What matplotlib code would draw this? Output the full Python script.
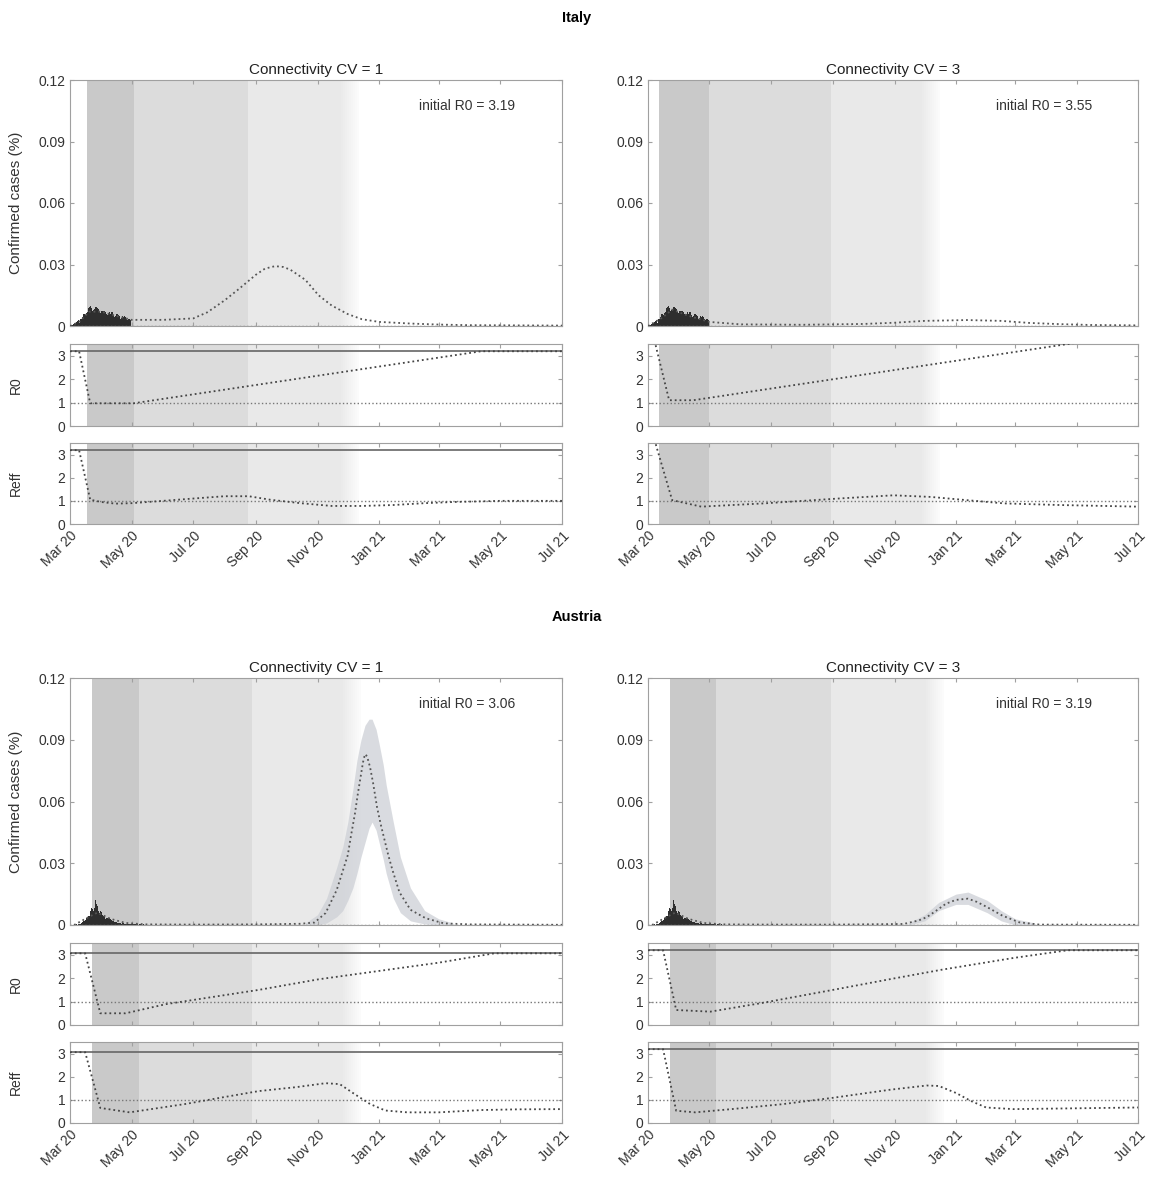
import numpy as np
import matplotlib
matplotlib.use("Agg")
import matplotlib.pyplot as plt
import matplotlib.dates as mdates

plt.rcParams["font.family"] = ["Liberation Sans", "DejaVu Sans"]

# --- 数据 ---
# 每日确诊（占人口 %），意大利 3/1 - 4/30
italy_obs_start = "2020-03-01"
italy_obs = [0.0004, 0.0005, 0.0006, 0.0009, 0.0013, 0.0013, 0.0021, 0.0025, 0.0027, 0.0016,
             0.0035, 0.0036, 0.0042, 0.0058, 0.0060, 0.0053, 0.0065, 0.0070, 0.0090, 0.0095,
             0.0100, 0.0088, 0.0072, 0.0078, 0.0085, 0.0094, 0.0092, 0.0090, 0.0082, 0.0068, 0.0065,
             0.0072, 0.0074, 0.0075, 0.0073, 0.0068, 0.0058, 0.0052, 0.0060, 0.0066, 0.0060,
             0.0070, 0.0068, 0.0052, 0.0042, 0.0050, 0.0060, 0.0058, 0.0054, 0.0050, 0.0036,
             0.0040, 0.0048, 0.0042, 0.0049, 0.0042, 0.0035, 0.0029, 0.0035, 0.0034, 0.0031]
# 奥地利 3/5 - 5/15
austria_obs_start = "2020-03-05"
austria_obs = [0.0002, 0.0002, 0.0003, 0.0002, 0.0004, 0.0006, 0.0007, 0.0010, 0.0014, 0.0018,
               0.0019, 0.0026, 0.0035, 0.0040, 0.0046, 0.0043, 0.0068, 0.0085, 0.0076, 0.0068,
               0.0082, 0.0120, 0.0100, 0.0090, 0.0066, 0.0060, 0.0068, 0.0062, 0.0048, 0.0046,
               0.0042, 0.0030, 0.0035, 0.0034, 0.0033, 0.0035, 0.0028, 0.0024, 0.0019, 0.0018,
               0.0016, 0.0014, 0.0013, 0.0011, 0.0010, 0.0009, 0.0008, 0.0007, 0.0009, 0.0008,
               0.0007, 0.0006, 0.0005, 0.0004, 0.0005, 0.0006, 0.0005, 0.0004, 0.0003, 0.0004,
               0.0003, 0.0004, 0.0003, 0.0003, 0.0002, 0.0003, 0.0003, 0.0002, 0.0002, 0.0003,
               0.0002, 0.0002]

# 模型曲线（日期, 值）
it1_model_dates = ["2020-03-01", "2020-03-10", "2020-03-20", "2020-04-01", "2020-04-15", "2020-05-01",
                   "2020-06-01", "2020-07-01", "2020-07-15", "2020-08-01", "2020-08-15", "2020-09-01",
                   "2020-09-10", "2020-09-20", "2020-09-28", "2020-10-05", "2020-10-20", "2020-11-02",
                   "2020-11-15", "2020-12-01", "2020-12-15", "2021-01-01", "2021-02-01", "2021-03-01",
                   "2021-04-01", "2021-07-01"]
it1_model = [0.0, 0.002, 0.007, 0.007, 0.005, 0.003, 0.003, 0.0037, 0.0067, 0.0125, 0.018, 0.025,
             0.0280, 0.0292, 0.0288, 0.0275, 0.0225, 0.015, 0.010, 0.0058, 0.0033, 0.002, 0.0012,
             0.0007, 0.0004, 0.0002]

it3_model_dates = ["2020-03-01", "2020-03-15", "2020-03-25", "2020-04-10", "2020-05-01", "2020-06-01",
                   "2020-08-01", "2020-10-01", "2020-11-01", "2020-12-01", "2021-01-12", "2021-02-15",
                   "2021-03-15", "2021-04-15", "2021-05-15", "2021-07-01"]
it3_model = [0.0, 0.004, 0.008, 0.005, 0.002, 0.0008, 0.0006, 0.0010, 0.0016, 0.0025, 0.0029, 0.0025,
             0.0015, 0.0009, 0.0005, 0.0003]

at1_model_dates = ["2020-03-05", "2020-03-20", "2020-03-28", "2020-04-10", "2020-04-25", "2020-05-15",
                   "2020-07-01", "2020-09-01", "2020-10-15", "2020-10-29", "2020-11-09", "2020-11-20",
                   "2020-12-01", "2020-12-04", "2020-12-08", "2020-12-11", "2020-12-14", "2020-12-16",
                   "2020-12-18", "2020-12-20", "2020-12-23", "2020-12-26", "2020-12-30", "2021-01-03",
                   "2021-01-07", "2021-01-10", "2021-01-14", "2021-01-21", "2021-02-01", "2021-02-16",
                   "2021-03-06", "2021-04-01", "2021-07-01"]
at1_model = [0.0, 0.004, 0.006, 0.003, 0.001, 0.0003, 0.0002, 0.0003, 0.0006, 0.0012, 0.0058, 0.017,
             0.034, 0.043, 0.054, 0.064, 0.073, 0.079, 0.083, 0.082, 0.0767, 0.069, 0.057, 0.048,
             0.040, 0.034, 0.027, 0.016, 0.0074, 0.0033, 0.0008, 0.0003, 0.0001]
at1_band_dates = ["2020-10-20", "2020-11-01", "2020-11-10", "2020-11-20", "2020-11-26", "2020-12-01",
                  "2020-12-06", "2020-12-10", "2020-12-14", "2020-12-18", "2020-12-22", "2020-12-25",
                  "2020-12-29", "2021-01-01", "2021-01-05", "2021-01-08", "2021-01-15", "2021-01-22",
                  "2021-02-01", "2021-02-15", "2021-03-01", "2021-03-15"]
at1_band_hi = [0.001, 0.005, 0.013, 0.028, 0.038, 0.050, 0.066, 0.080, 0.090, 0.097, 0.100, 0.100,
               0.095, 0.088, 0.078, 0.068, 0.050, 0.033, 0.018, 0.007, 0.003, 0.001]
at1_band_lo = [0.0, 0.0, 0.001, 0.004, 0.007, 0.012, 0.018, 0.025, 0.033, 0.040, 0.047, 0.050,
               0.046, 0.040, 0.032, 0.025, 0.013, 0.006, 0.002, 0.0005, 0.0, 0.0]

at3_model_dates = ["2020-03-05", "2020-03-20", "2020-03-28", "2020-04-10", "2020-04-25", "2020-05-15",
                   "2020-07-01", "2020-09-01", "2020-11-10", "2020-11-25", "2020-12-03", "2020-12-12",
                   "2020-12-22", "2021-01-01", "2021-01-13", "2021-01-22", "2021-02-01", "2021-02-16",
                   "2021-03-05", "2021-03-25", "2021-07-01"]
at3_model = [0.0, 0.004, 0.006, 0.003, 0.001, 0.0003, 0.0002, 0.0002, 0.0005, 0.0022, 0.0038, 0.0068,
             0.0103, 0.0122, 0.0128, 0.0112, 0.0087, 0.0046, 0.0013, 0.0002, 0.0001]
at3_band_dates = ["2020-11-15", "2020-12-01", "2020-12-15", "2021-01-01", "2021-01-13", "2021-02-01",
                  "2021-02-15", "2021-03-01", "2021-03-20"]
at3_band_hi = [0.001, 0.005, 0.011, 0.015, 0.016, 0.012, 0.007, 0.003, 0.001]
at3_band_lo = [0.0, 0.002, 0.007, 0.010, 0.010, 0.006, 0.002, 0.0, 0.0]

# R0 / Reff
it1_r0_dates = ["2020-03-01", "2020-03-10", "2020-03-21", "2020-05-03", "2021-04-12", "2021-07-01"]
it1_r0 = [3.19, 3.19, 0.97, 0.97, 3.19, 3.19]
it1_reff_dates = ["2020-03-01", "2020-03-10", "2020-03-21", "2020-04-01", "2020-04-15", "2020-05-01",
                  "2020-06-01", "2020-07-01", "2020-08-01", "2020-08-25", "2020-09-15", "2020-10-15",
                  "2020-11-15", "2020-12-15", "2021-01-15", "2021-02-15", "2021-03-15", "2021-05-01",
                  "2021-07-01"]
it1_reff = [3.19, 3.19, 1.05, 0.95, 0.88, 0.9, 1.0, 1.1, 1.2, 1.2, 1.05, 0.9, 0.78, 0.78, 0.82, 0.9,
            0.95, 1.0, 1.0]

it3_r0_dates = ["2020-03-01", "2020-03-08", "2020-03-22", "2020-04-15", "2021-04-30", "2021-07-01"]
it3_r0 = [3.55, 3.55, 1.1, 1.1, 3.55, 3.55]
it3_reff_dates = ["2020-03-01", "2020-03-08", "2020-03-25", "2020-04-23", "2020-06-24", "2020-09-06",
                  "2020-10-31", "2020-12-07", "2021-01-12", "2021-02-18", "2021-04-14", "2021-07-01"]
it3_reff = [3.55, 3.55, 1.03, 0.75, 0.89, 1.1, 1.24, 1.17, 1.03, 0.89, 0.82, 0.75]

at1_r0_dates = ["2020-03-01", "2020-03-16", "2020-03-31", "2020-04-25", "2020-06-04", "2020-09-04",
                "2020-11-02", "2021-03-01", "2021-04-25", "2021-07-01"]
at1_r0 = [3.06, 3.06, 0.5, 0.5, 0.89, 1.5, 1.95, 2.66, 3.06, 3.06]
at1_reff_dates = ["2020-03-01", "2020-03-16", "2020-03-31", "2020-04-29", "2020-06-23", "2020-07-29",
                  "2020-09-04", "2020-10-11", "2020-11-09", "2020-11-23", "2020-12-08", "2020-12-23",
                  "2021-01-07", "2021-01-29", "2021-03-01", "2021-04-12", "2021-05-18", "2021-07-01"]
at1_reff = [3.06, 3.06, 0.65, 0.46, 0.82, 1.1, 1.38, 1.55, 1.72, 1.68, 1.24, 0.82, 0.54, 0.46, 0.46,
            0.56, 0.59, 0.6]

at3_r0_dates = ["2020-03-01", "2020-03-16", "2020-03-29", "2020-05-02", "2020-06-21", "2020-09-01",
                "2020-10-28", "2020-12-18", "2021-02-27", "2021-04-22", "2021-07-01"]
at3_r0 = [3.19, 3.19, 0.64, 0.57, 0.93, 1.5, 1.96, 2.36, 2.86, 3.19, 3.19]
at3_reff_dates = ["2020-03-01", "2020-03-16", "2020-03-29", "2020-04-17", "2020-05-23", "2020-07-12",
                  "2020-09-01", "2020-10-28", "2020-12-03", "2020-12-15", "2021-01-01", "2021-01-16",
                  "2021-01-31", "2021-02-27", "2021-07-01"]
at3_reff = [3.19, 3.19, 0.53, 0.46, 0.6, 0.81, 1.09, 1.44, 1.62, 1.6, 1.3, 0.95, 0.67, 0.6, 0.67]

# 限制措施阴影的分界日期：强 / 中 / 弱 / 结束
it1_spans = ["2020-03-18", "2020-05-03", "2020-08-24", "2020-12-12"]
it3_spans = ["2020-03-12", "2020-05-01", "2020-08-30", "2020-12-16"]
at1_spans = ["2020-03-23", "2020-05-08", "2020-08-28", "2020-12-14"]
at3_spans = ["2020-03-23", "2020-05-08", "2020-08-30", "2020-12-20"]

initial_r0 = {"it1": 3.19, "it3": 3.55, "at1": 3.06, "at3": 3.19}

W, H = 1149, 1178
fig = plt.figure(figsize=(W / 100, H / 100), dpi=100)

x_start, x_end = np.datetime64("2020-03-01"), np.datetime64("2021-07-01")
xticks = np.array(["2020-03-01", "2020-05-01", "2020-07-01", "2020-09-01", "2020-11-01",
                   "2021-01-01", "2021-03-01", "2021-05-01", "2021-07-01"], dtype="datetime64[D]")
span_cols = ["#c9c9c9", "#dcdcdc", "#e9e9e9"]
frame_col = "#a0a0a0"
text_col = "#333333"


def d(lst):
    return np.array(lst, dtype="datetime64[D]")


def px_rect(left, top, right, bottom):
    return [left / W, 1 - bottom / H, (right - left) / W, (bottom - top) / H]


def style(ax, ylim, yticks, yticklabels, show_x):
    ax.set_xlim(x_start, x_end)
    ax.set_ylim(*ylim)
    ax.set_yticks(yticks)
    ax.set_yticklabels(yticklabels)
    ax.set_xticks(xticks)
    if show_x:
        ax.xaxis.set_major_formatter(mdates.DateFormatter("%b %y"))
        for lab in ax.get_xticklabels():
            lab.set_rotation(45)
            lab.set_ha("right")
            lab.set_rotation_mode("anchor")
    else:
        ax.set_xticklabels([])
    ax.tick_params(direction="in", length=3, top=True, right=True, color=frame_col,
                   labelcolor=text_col, labelsize=10)
    for s in ax.spines.values():
        s.set_color(frame_col)
        s.set_linewidth(0.8)


def shade(ax, spans):
    b = d(spans)
    ax.axvspan(b[0], b[1], color=span_cols[0], lw=0, zorder=0)
    ax.axvspan(b[1], b[2], color=span_cols[1], lw=0, zorder=0)
    # 最后一段向右逐渐变淡
    fade = np.datetime64(b[3]) - np.timedelta64(20, "D")
    ax.axvspan(b[2], fade, color=span_cols[2], lw=0, zorder=0)
    steps = 10
    for i in range(steps):
        s0 = fade + np.timedelta64(2 * i, "D")
        g = 0xe9 + (0xfb - 0xe9) * i / (steps - 1)
        ax.axvspan(s0, s0 + np.timedelta64(2, "D"), color=(g / 255, g / 255, g / 255), lw=0, zorder=0)


def column(left, right, rows, spans, obs_start, obs, mdates_, model, band, key, r0d, r0, refd, reff,
           title, ylabels):
    ax_c = fig.add_axes(px_rect(left, rows[0][0], right, rows[0][1]))
    ax_r = fig.add_axes(px_rect(left, rows[1][0], right, rows[1][1]))
    ax_e = fig.add_axes(px_rect(left, rows[2][0], right, rows[2][1]))
    for ax in (ax_c, ax_r, ax_e):
        shade(ax, spans)

    # 确诊
    od = np.datetime64(obs_start) + np.arange(len(obs))
    if band is not None:
        ax_c.fill_between(d(band[0]), band[1], band[2], color="#cdd0d6", alpha=0.75, lw=0, zorder=1)
    ax_c.bar(od, obs, width=1.0, color="#2e2e2e", lw=0, zorder=2)
    ax_c.axhline(0, color="#777777", ls=":", lw=1, zorder=2)
    ax_c.plot(d(mdates_), model, ls=":", color="#555555", lw=1.3, zorder=3)
    ax_c.text(0.71, 0.88, f"initial R0 = {initial_r0[key]:.2f}", transform=ax_c.transAxes,
              fontsize=10, color=text_col)
    ax_c.set_title(title, fontsize=11, color="#222222", pad=4)
    style(ax_c, (0, 0.12), [0, 0.03, 0.06, 0.09, 0.12], ["0", "0.03", "0.06", "0.09", "0.12"], False)

    # R0 与 Reff
    for ax, dd, vals in ((ax_r, r0d, r0), (ax_e, refd, reff)):
        ax.axhline(initial_r0[key], color="#666666", lw=1.2, zorder=2)
        ax.axhline(1, color="#777777", ls=":", lw=1, zorder=2)
        ax.plot(d(dd), vals, ls=":", color="#444444", lw=1.3, zorder=3)
    style(ax_r, (0, 3.5), [0, 1, 2, 3], ["0", "1", "2", "3"], False)
    style(ax_e, (0, 3.5), [0, 1, 2, 3], ["0", "1", "2", "3"], True)

    if ylabels:
        ax_c.set_ylabel("Confirmed cases (%)", fontsize=11, color=text_col)
        ax_r.set_ylabel("R0", fontsize=10, color=text_col, labelpad=8)
        ax_e.set_ylabel("Reff", fontsize=10, color=text_col, labelpad=8)
        for ax in (ax_c, ax_r, ax_e):
            ax.yaxis.set_label_coords(-0.095, 0.5)


it_rows = [(80, 326), (344, 426), (443, 524)]
at_rows = [(678, 925), (943, 1025), (1042, 1123)]
L = (70, 562)
R = (648, 1138)

column(*L, it_rows, it1_spans, italy_obs_start, italy_obs, it1_model_dates, it1_model, None, "it1",
       it1_r0_dates, it1_r0, it1_reff_dates, it1_reff, "Connectivity CV = 1", True)
column(*R, it_rows, it3_spans, italy_obs_start, italy_obs, it3_model_dates, it3_model, None, "it3",
       it3_r0_dates, it3_r0, it3_reff_dates, it3_reff, "Connectivity CV = 3", False)
column(*L, at_rows, at1_spans, austria_obs_start, austria_obs, at1_model_dates, at1_model,
       (at1_band_dates, at1_band_lo, at1_band_hi), "at1",
       at1_r0_dates, at1_r0, at1_reff_dates, at1_reff, "Connectivity CV = 1", True)
column(*R, at_rows, at3_spans, austria_obs_start, austria_obs, at3_model_dates, at3_model,
       (at3_band_dates, at3_band_lo, at3_band_hi), "at3",
       at3_r0_dates, at3_r0, at3_reff_dates, at3_reff, "Connectivity CV = 3", False)

fig.text(577 / W, 1 - 18 / H, "Italy", ha="center", va="center", fontsize=10.5, fontweight="bold")
fig.text(577 / W, 1 - 617 / H, "Austria", ha="center", va="center", fontsize=10.5, fontweight="bold")

fig.savefig("out.png", dpi=100, facecolor="white")
